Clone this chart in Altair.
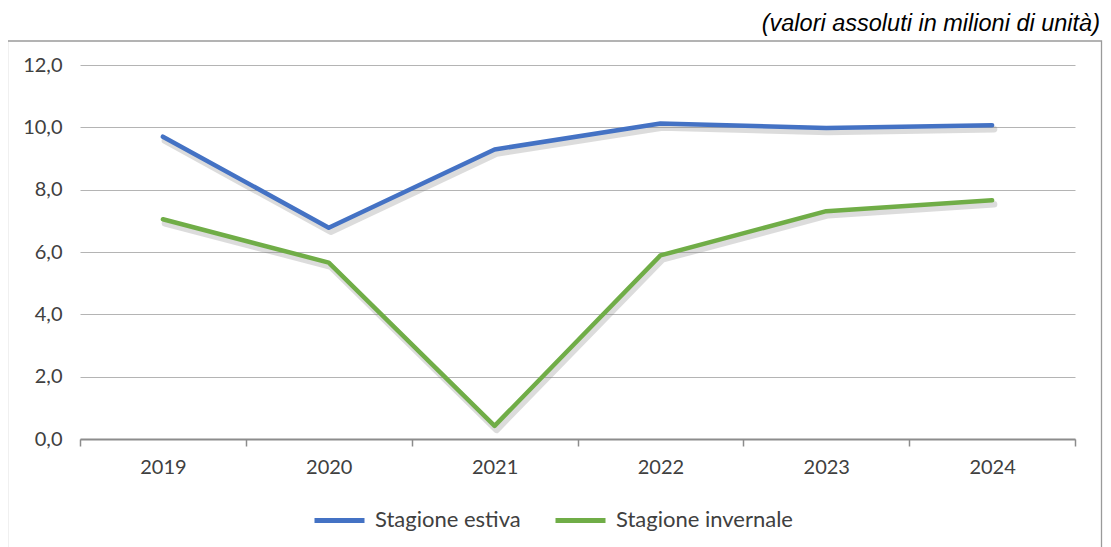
import altair as alt
import pandas as pd

years = ["2019", "2020", "2021", "2022", "2023", "2024"]
estiva = [9.70, 6.78, 9.29, 10.12, 9.98, 10.07]
invernale = [7.05, 5.66, 0.42, 5.89, 7.31, 7.66]
series_names = ["Stagione estiva", "Stagione invernale"]
series_colors = ["#4472C4", "#70AD47"]
y_ticks = [0, 2, 4, 6, 8, 10, 12]
subtitle = "(valori assoluti in milioni di unità)"

rows = []
for i, yr in enumerate(years):
    rows.append({"anno": yr, "serie": series_names[0], "valore": estiva[i]})
    rows.append({"anno": yr, "serie": series_names[1], "valore": invernale[i]})
df = pd.DataFrame(rows)

label_font = "Lato"
label_color = "#404040"

x_enc = alt.X(
    "anno:N",
    scale=alt.Scale(type="band", domain=years, paddingInner=0, paddingOuter=0),
    axis=alt.Axis(
        title=None, labelAngle=0, tickBand="extent", grid=False,
        domainColor="#8c8c8c", domainWidth=2, tickColor="#8c8c8c", tickWidth=1.5,
        tickSize=7, labelFont=label_font, labelFontSize=20, labelColor=label_color,
        labelPadding=11,
    ),
)
y_enc = alt.Y(
    "valore:Q",
    scale=alt.Scale(domain=[0, 12], nice=False),
    axis=alt.Axis(
        title=None, values=y_ticks, domain=False, ticks=False,
        labelExpr="replace(format(datum.value, '.1f'), '.', ',')",
        gridColor="#b4b4b4", gridWidth=1, labelFont=label_font, labelFontSize=20,
        labelColor=label_color, labelPadding=18,
    ),
)

shadow = alt.Chart(df).mark_line(
    color="#808080", opacity=0.28, strokeWidth=6.5, xOffset=2, yOffset=4,
    strokeCap="round", strokeJoin="round",
).encode(x=x_enc, y=y_enc, detail="serie:N")

lines = alt.Chart(df).mark_line(
    strokeWidth=4.5, strokeCap="round", strokeJoin="round",
).encode(
    x=x_enc,
    y=y_enc,
    color=alt.Color(
        "serie:N",
        scale=alt.Scale(domain=series_names, range=series_colors),
        legend=alt.Legend(
            title=None, orient="none", legendX=232, legendY=427.7,
            direction="horizontal", symbolType="stroke", symbolStrokeWidth=5,
            symbolSize=2500, labelFont=label_font, labelFontSize=22,
            labelColor=label_color, labelOffset=8, columnPadding=24,
            labelLimit=0,
        ),
    ),
)

one = pd.DataFrame({"k": [0]})
frame = alt.Chart(one).mark_rect(
    fill="transparent", stroke="#9a9a9a", strokeWidth=1.3
).encode(
    x=alt.value(-72.5), x2=alt.value(1021.5), y=alt.value(-24), y2=alt.value(520)
)

title_text = alt.Chart(one).mark_text(
    text=subtitle, align="right", baseline="middle", font="Liberation Sans",
    fontStyle="italic", fontSize=23.5, color="#000000",
).encode(x=alt.value(1020), y=alt.value(-41))

chart = alt.layer(frame, title_text, shadow, lines).properties(
    width=995, height=374,
    padding={"left": 72, "top": 57, "right": 28, "bottom": 108},
    autosize=alt.AutoSizeParams(type="none"),
).configure_view(stroke=None)

chart.save("out.html", embed_options={"renderer": "svg", "actions": False})
